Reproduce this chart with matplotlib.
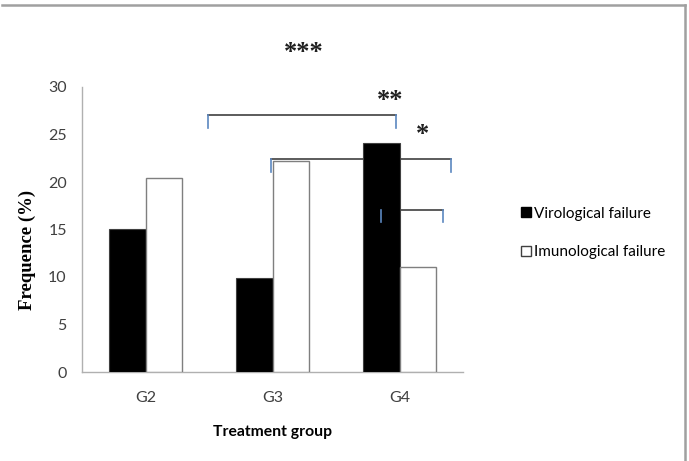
import matplotlib
matplotlib.use("Agg")
import matplotlib.pyplot as plt
from matplotlib.lines import Line2D
import numpy as np

groups = ["G2", "G3", "G4"]
virological = [15.0, 9.9, 24.1]
immunological = [20.4, 22.2, 11.05]
series_labels = ["Virological failure", "Imunological failure"]
yticks = [0, 5, 10, 15, 20, 25, 30]

# significance brackets: (x_left, x_right, y_top, y_bottom_of_ticks)
brackets = [(0.492, 1.972, 27.05, 25.7),
            (0.988, 2.406, 22.45, 21.05),
            (1.854, 2.343, 17.1, 15.8)]
stars = [("***", 1.244, 32.9), ("**", 1.925, 27.9), ("*", 2.185, 24.3)]

fig = plt.figure(figsize=(6.89, 4.61), dpi=100)
ax = fig.add_axes([82/689, 89/461, (463-82)/689, (372-87)/461])

x = np.arange(len(groups))
w = 0.287
ax.bar(x - w/2, virological, w, color="black", edgecolor="#404040", linewidth=0.8, zorder=3)
ax.bar(x + w/2, immunological, w, color="white", edgecolor="#7f7f7f", linewidth=1.0, zorder=3)

ax.set_xlim(-0.5, 2.5)
ax.set_ylim(0, 30)
ax.set_yticks(yticks)
ax.set_xticks(x)
ax.set_xticklabels(groups)
for s in ["top", "right"]:
    ax.spines[s].set_visible(False)
for s in ["left", "bottom"]:
    ax.spines[s].set_color("#b0b0b0")
    ax.spines[s].set_linewidth(1.0)
ax.tick_params(length=0, labelsize=11.5, colors="#404040")
for lab in ax.get_xticklabels() + ax.get_yticklabels():
    lab.set_family("Lato")
ax.tick_params(axis="x", pad=14)
ax.tick_params(axis="y", pad=11)

ax.set_ylabel("Frequence (%)", family="Liberation Serif", fontweight="bold", fontsize=13.5)
ax.yaxis.set_label_coords(-0.122, 0.43)
ax.set_xlabel("Treatment group", family="Lato", fontweight="bold", fontsize=11.3, labelpad=14)

blue = "#5b87c0"
gray = "#404040"
for xl, xr, yt, yb in brackets:
    ax.plot([xl, xr], [yt, yt], color=gray, lw=1.2, zorder=2, clip_on=False)
    ax.plot([xl, xl], [yt, yb], color=blue, lw=1.2, zorder=5, clip_on=False)
    ax.plot([xr, xr], [yt, yb], color=blue, lw=1.2, zorder=5, clip_on=False)

for txt, sx, sy in stars:
    ax.text(sx, sy, txt, ha="center", va="baseline", fontsize=19,
            family="Liberation Serif", fontweight="bold", color="#202020", clip_on=False)

handles = [Line2D([], [], marker="s", linestyle="none", markerfacecolor="black",
                  markeredgecolor="black", markersize=7),
           Line2D([], [], marker="s", linestyle="none", markerfacecolor="white",
                  markeredgecolor="#404040", markersize=7)]
fig.legend(handles, series_labels, loc="center left", bbox_to_anchor=(512/689, 1 - 233/461),
           frameon=False, prop={"family": "Lato", "size": 11}, handletextpad=0.05,
           handlelength=1.0, labelspacing=1.6, borderaxespad=0)

# outer frame lines (top and right)
fig.add_artist(Line2D([2/689, 685/689], [1 - 5/461, 1 - 5/461], color="#a0a0a0", lw=1.8,
                      transform=fig.transFigure))
fig.add_artist(Line2D([685/689, 685/689], [1 - 5/461, 0], color="#a0a0a0", lw=1.8,
                      transform=fig.transFigure))

fig.savefig("out.png", dpi=100)
